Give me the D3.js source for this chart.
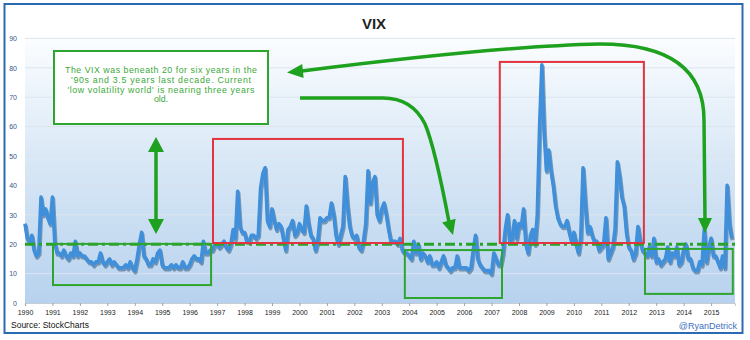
<!DOCTYPE html>
<html><head><meta charset="utf-8">
<script src="https://cdn.jsdelivr.net/npm/d3@7"></script>
<style>html,body{margin:0;padding:0;background:#fff;}svg{display:block;font-family:"Liberation Sans",Arial,sans-serif;}</style>
</head><body><svg id="c" width="750" height="340"></svg>
<script>
// ---------- DATA (monthly VIX readings, Jan 1990 .. Oct 2015) ----------
const v1990 = [27, 22, 21, 23, 18, 16, 17, 36, 30, 32, 29, 27];
const v1991 = [36, 21, 17, 17, 16, 18, 16, 15, 17, 16, 21, 16];
const v1992 = [17, 16, 16, 15, 14, 14, 13, 14, 14, 17, 14, 13];
const v1993 = [14, 15, 13, 14, 13, 12, 12, 12, 13, 12, 14, 12];
const v1994 = [11, 15, 20, 24, 16, 15, 13, 13, 15, 14, 17, 18];
const v1995 = [13, 12, 12, 12, 13, 12, 13, 12, 12, 14, 12, 12];
const v1996 = [13, 15, 16, 15, 15, 14, 21, 17, 17, 18, 18, 20];
const v1997 = [20, 19, 20, 21, 19, 18, 20, 25, 22, 38, 26, 24];
const v1998 = [24, 21, 21, 23, 23, 22, 23, 39, 44, 46, 28, 26];
const v1999 = [32, 28, 25, 27, 26, 22, 18, 25, 26, 28, 23, 24];
const v2000 = [27, 25, 24, 33, 27, 23, 22, 18, 21, 29, 28, 28];
const v2001 = [29, 29, 34, 30, 23, 20, 23, 26, 43, 33, 26, 23];
const v2002 = [22, 23, 19, 18, 21, 27, 45, 34, 41, 43, 30, 28];
const v2003 = [32, 34, 30, 25, 21, 21, 21, 20, 22, 18, 17, 17];
const v2004 = [16, 15, 21, 17, 20, 15, 17, 16, 14, 16, 13, 13];
const v2005 = [14, 12, 14, 16, 13, 12, 11, 12, 12, 16, 12, 12];
const v2006 = [12, 12, 11, 12, 18, 23, 15, 13, 12, 11, 11, 11];
const v2007 = [10, 17, 15, 13, 13, 17, 25, 30, 21, 22, 28, 22];
const v2008 = [27, 26, 32, 20, 17, 23, 25, 20, 30, 60, 81, 58];
const v2009 = [45, 52, 45, 40, 33, 29, 27, 26, 26, 28, 24, 21];
const v2010 = [24, 20, 17, 22, 46, 34, 24, 26, 23, 21, 21, 18];
const v2011 = [19, 20, 29, 15, 17, 19, 25, 48, 43, 36, 33, 24];
const v2012 = [19, 18, 15, 17, 26, 21, 18, 17, 16, 19, 16, 22];
const v2013 = [14, 15, 13, 14, 15, 19, 14, 17, 16, 19, 13, 14];
const v2014 = [18, 20, 15, 15, 12, 11, 11, 14, 13, 25, 14, 19];
const v2015 = [22, 16, 16, 14, 12, 16, 12, 40, 27, 22];

const seriesByYear = [v1990, v1991, v1992, v1993, v1994, v1995, v1996, v1997, v1998, v1999,
  v2000, v2001, v2002, v2003, v2004, v2005, v2006, v2007, v2008, v2009,
  v2010, v2011, v2012, v2013, v2014, v2015];
const firstYear = 1990;

const xTickLabels = ["1990","1991","1992","1993","1994","1995","1996","1997","1998","1999","2000","2001","2002",
  "2003","2004","2005","2006","2007","2008","2009","2010","2011","2012","2013","2014","2015"];
const yTickValues = [0, 10, 20, 30, 40, 50, 60, 70, 80, 90];
const threshold = 20;

// highlighted periods: [startYear, endYear, lowValue, highValue]
const redPeriods = [[1996.85, 2003.77, 20.4, 55.8], [2007.30, 2012.55, 20.4, 82.0]];
const greenPeriods = [[1991.02, 1996.78, 6.1, 20.1], [2003.84, 2007.38, 1.7, 18.0], [2012.59, 2015.79, 3.1, 18.4]];
const noteLines = ["The VIX was beneath 20 for six years in the",
  "'90s and 3.5 years last decade.  Current",
  "'low volatility world' is nearing three years",
  "old."];

// ---------- CHART ----------
const data = [];
seriesByYear.forEach((arr, yi) => arr.forEach((v, m) => data.push({t: firstYear + yi + m / 12, v})));

const svg = d3.select("#c");
const L = 25, R = 735, T = 38.4, B = 303;
const x = d3.scaleLinear().domain([1990, 2015.87]).range([L, R]);
const y = d3.scaleLinear().domain([0, 90]).range([B, T]);

const defs = svg.append("defs");
const g = defs.append("linearGradient").attr("id", "bg").attr("x1", 0).attr("y1", 0).attr("x2", 0).attr("y2", 1);
g.append("stop").attr("offset", 0).attr("stop-color", "#fbfdff");
g.append("stop").attr("offset", 0.5).attr("stop-color", "#d6e6f5");
g.append("stop").attr("offset", 1).attr("stop-color", "#b7d2ee");

// frame
svg.append("rect").attr("x", 4.5).attr("y", 4).attr("width", 738).attr("height", 329)
  .attr("fill", "#fff").attr("stroke", "#2a6ab3").attr("stroke-width", 2);

// plot background
svg.append("rect").attr("x", L).attr("y", T).attr("width", R - L).attr("height", B - T).attr("fill", "url(#bg)");

// gridlines
svg.append("g").selectAll("line").data(yTickValues.filter(d => d > 0)).join("line")
  .attr("x1", L).attr("x2", R).attr("y1", d => y(d)).attr("y2", d => y(d))
  .attr("stroke", "#dbe4ee").attr("stroke-width", 1);

// axes
const yAxis = svg.append("g").attr("transform", `translate(${L - 5},0)`)
  .call(d3.axisLeft(y).tickValues(yTickValues).tickSize(0).tickPadding(3));
yAxis.select(".domain").remove();
yAxis.selectAll("text").attr("font-size", 7).attr("fill", "#34598a").attr("font-family", "Liberation Sans, Arial, sans-serif");

const xAxis = svg.append("g").attr("transform", `translate(0,${B})`)
  .call(d3.axisBottom(x).tickValues(xTickLabels.map(Number)).tickFormat((d, i) => xTickLabels[i]).tickSize(3).tickPadding(4));
xAxis.select(".domain").attr("stroke", "#c5ccd4");
xAxis.selectAll(".tick line").attr("stroke", "#9aa5b0");
xAxis.selectAll("text").attr("font-size", 7).attr("fill", "#222").attr("font-family", "Liberation Sans, Arial, sans-serif");

// line
const line = d3.line().x(d => x(d.t)).y(d => y(d.v));
svg.append("path").datum(data).attr("d", line).attr("fill", "none")
  .attr("stroke", "#284f73").attr("stroke-opacity", 0.5).attr("stroke-width", 4)
  .attr("stroke-linejoin", "round").attr("transform", "translate(0.8,1.8)");
svg.append("path").datum(data).attr("d", line).attr("fill", "none")
  .attr("stroke", "#3f8fdb").attr("stroke-width", 3.6).attr("stroke-linejoin", "round");

// threshold dash-dot line
svg.append("line").attr("x1", L).attr("x2", R).attr("y1", y(threshold)).attr("y2", y(threshold))
  .attr("stroke", "#27a327").attr("stroke-width", 3).attr("stroke-dasharray", "10,4,3,4");

// boxes
svg.append("g").selectAll("rect").data(redPeriods).join("rect")
  .attr("x", d => x(d[0])).attr("y", d => y(d[3])).attr("width", d => x(d[1]) - x(d[0])).attr("height", d => y(d[2]) - y(d[3]))
  .attr("fill", "none").attr("stroke", "#e2333f").attr("stroke-width", 2);
svg.append("g").selectAll("rect").data(greenPeriods).join("rect")
  .attr("x", d => x(d[0])).attr("y", d => y(d[3])).attr("width", d => x(d[1]) - x(d[0])).attr("height", d => y(d[2]) - y(d[3]))
  .attr("fill", "none").attr("stroke", "#2ea52e").attr("stroke-width", 2);

// note box
svg.append("rect").attr("x", 54).attr("y", 51).attr("width", 214).attr("height", 73)
  .attr("fill", "#fff").attr("stroke", "#2ea52e").attr("stroke-width", 2);
const noteWidths = [192, 180, 187, null];
svg.append("g").selectAll("text").data(noteLines).join("text")
  .attr("x", 161).attr("y", (d, i) => 73 + i * 9.8).attr("text-anchor", "middle")
  .attr("font-size", 8.8).attr("fill", "#3aa83a")
  .each(function(d, i) { if (noteWidths[i]) d3.select(this).attr("textLength", noteWidths[i]).attr("lengthAdjust", "spacing"); })
  .text(d => d);

// arrows
const AC = "#1ea11e";
function head(tip, from, len, hw) {
  const dx = tip[0] - from[0], dy = tip[1] - from[1], n = Math.hypot(dx, dy);
  const ux = dx / n, uy = dy / n, bx = tip[0] - ux * len, by = tip[1] - uy * len;
  svg.append("path").attr("d", `M${tip[0]},${tip[1]}L${bx - uy * hw},${by + ux * hw}L${bx + uy * hw},${by - ux * hw}Z`).attr("fill", AC);
}
svg.append("path").attr("d", "M705,220 L704,120 C704,68 668,44 600,44 Q500,46 300,71.3")
  .attr("fill", "none").attr("stroke", AC).attr("stroke-width", 3.5);
head([287, 72.6], [300, 71.3], 16, 7);
head([705, 233], [705, 218], 15, 7);

svg.append("path").attr("d", "M300,98 L383,98 C403,98 417,108 425,124 C434,145 442,185 449,222")
  .attr("fill", "none").attr("stroke", AC).attr("stroke-width", 3.5);
head([453, 235], [449, 221], 15, 7);

svg.append("line").attr("x1", 156).attr("x2", 156).attr("y1", 148).attr("y2", 223).attr("stroke", AC).attr("stroke-width", 3.5);
head([156, 137], [156, 152], 15, 8);
head([156, 234], [156, 219], 15, 8);

// title & captions
svg.append("text").attr("x", 374).attr("y", 29).attr("text-anchor", "middle")
  .attr("font-size", 15).attr("font-weight", "bold").attr("fill", "#222").text("VIX");
svg.append("text").attr("x", 11).attr("y", 328).attr("font-size", 8.5).attr("fill", "#111").text("Source:  StockCharts");
svg.append("text").attr("x", 737).attr("y", 329).attr("text-anchor", "end").attr("font-size", 9).attr("fill", "#3b6fc0").text("@RyanDetrick");
</script></body></html>
